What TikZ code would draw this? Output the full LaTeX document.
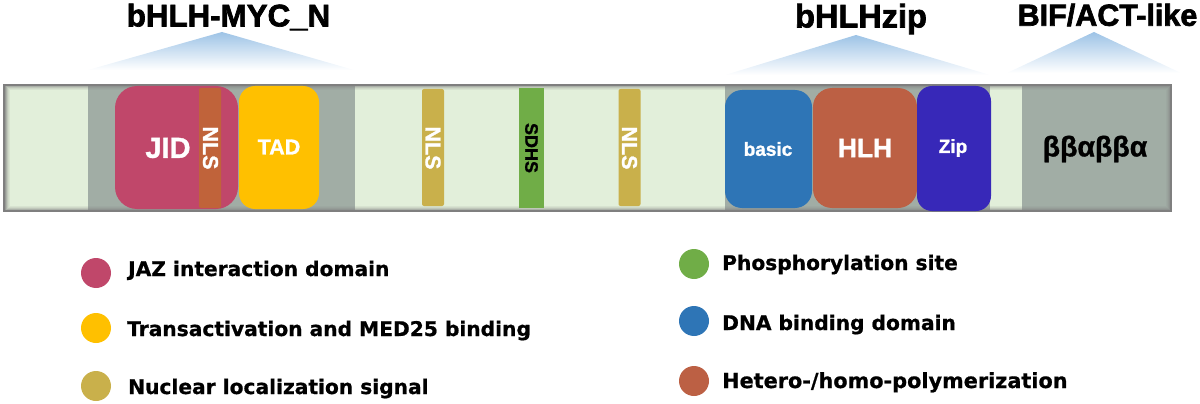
\documentclass[tikz,border=0pt]{standalone}
\usepackage{fontspec}
\setmainfont{Liberation Sans}
\newfontfamily\headfont[RawFeature={embolden=2.2}]{Liberation Sans Bold}
\newfontfamily\labfont[RawFeature={embolden=1.2}]{Liberation Sans Bold}
\newfontfamily\legbold[RawFeature={embolden=0.8}]{DejaVu Sans Bold}
\definecolor{barcol}{HTML}{E2EFDA}
\definecolor{graycol}{HTML}{A1ADA5}
\definecolor{edgecol}{HTML}{7F7F7F}
\definecolor{jidcol}{HTML}{C0476A}
\definecolor{tadcol}{HTML}{FFC000}
\definecolor{nlscol}{HTML}{C9B04B}
\definecolor{nlsjid}{HTML}{C0633A}
\definecolor{sdhscol}{HTML}{70AD47}
\definecolor{basiccol}{HTML}{2E75B6}
\definecolor{hlhcol}{HTML}{BC6044}
\definecolor{zipcol}{HTML}{3728B8}
\definecolor{tricol}{HTML}{9DC3E6}
\tikzset{
  domainbox/.style={inner sep=0pt,outer sep=0pt,rectangle},
  whitetext/.style={text=white,inner sep=0pt},
  headlabel/.style={text=black,font=\headfont\fontsize{31.3}{32}\selectfont,inner sep=0pt},
  legdot/.style={circle,inner sep=0pt,minimum size=30pt},
  legtext/.style={anchor=base west,inner sep=0pt,text=black,font=\legbold\fontsize{20.2}{21}\selectfont}
}
\begin{document}
\begin{tikzpicture}[x=1pt,y=-1pt]
\useasboundingbox (0,0) rectangle (1200,404);
% triangles
\begin{scope}
\clip (88,70) -- (222,32) -- (354,70) -- cycle;
\shade[top color=tricol,bottom color=white] (88,32) rectangle (354,70);
\end{scope}
\begin{scope}
\clip (725,75) -- (856,35) -- (990,75) -- cycle;
\shade[top color=tricol,bottom color=white] (725,35) rectangle (990,75);
\end{scope}
\begin{scope}
\clip (1007,73) -- (1094,32) -- (1181,73) -- cycle;
\shade[top color=tricol,bottom color=white] (1007,32) rectangle (1181,73);
\end{scope}
\node[headlabel] (h1) at (228.5,17) {bHLH-MYC\_N};
\node[headlabel,font=\headfont\fontsize{32.5}{33}\selectfont] (h2) at (861,19) {bHLHzip};
\node[headlabel,font=\headfont\fontsize{30.5}{31}\selectfont] (h3) at (1107.5,15) {BIF/ACT-like};
% bar
\fill[barcol] (4,85) rectangle (1171,211);
\fill[graycol] (88,85) rectangle (355,211);
\fill[graycol] (725,85) rectangle (990,211);
\fill[graycol] (1022,85) rectangle (1171,211);
\foreach \d/\o in {1/0.75,2/0.55,3/0.35,4/0.2,5/0.1}{
  \draw[edgecol,opacity=\o,line width=1pt] (4+\d,85+\d) rectangle (1171-\d,211-\d);
}
\draw[edgecol,line width=2pt] (4,85) rectangle (1171,211);
% domains
\node[domainbox,fill=jidcol,rounded corners=22pt,minimum width=123pt,minimum height=123pt] (jid) at (176.5,147.5) {};
\node[domainbox,fill=tadcol,rounded corners=16pt,minimum width=80pt,minimum height=123pt] (tad) at (279,147.5) {};
\node[domainbox,fill=nlsjid,rounded corners=2pt,minimum width=22pt,minimum height=120pt] (nlsa) at (210,148) {};
\node[domainbox,fill=nlscol,rounded corners=2pt,minimum width=22pt,minimum height=117pt] (nlsb) at (433,147.5) {};
\node[domainbox,fill=sdhscol,minimum width=25pt,minimum height=120pt] (sdhs) at (531.5,148) {};
\node[domainbox,fill=nlscol,rounded corners=2pt,minimum width=22pt,minimum height=117pt] (nlsc) at (629.5,147.5) {};
\node[domainbox,fill=basiccol,rounded corners=17pt,minimum width=87pt,minimum height=118pt] (basic) at (768.5,149) {};
\node[domainbox,fill=hlhcol,rounded corners=19pt,minimum width=104pt,minimum height=120pt] (hlh) at (865,148) {};
\node[domainbox,fill=zipcol,rounded corners=15pt,minimum width=74pt,minimum height=125pt] (zip) at (954,148.5) {};
% domain labels
\node[whitetext,font=\labfont\fontsize{29}{29}\selectfont] (tjid) at (168,148) {JID};
\node[whitetext,font=\labfont\fontsize{21.5}{22}\selectfont] (ttad) at (279,147) {TAD};
\node[whitetext,rotate=-90,font=\labfont\fontsize{21.5}{22}\selectfont] (tnlsa) at (210.5,148) {NLS};
\node[whitetext,rotate=-90,font=\labfont\fontsize{21.5}{22}\selectfont] (tnlsb) at (433,148) {NLS};
\node[whitetext,rotate=-90,font=\labfont\fontsize{21.5}{22}\selectfont] (tnlsc) at (629.5,148) {NLS};
\node[text=black,font=\labfont\fontsize{18}{18}\selectfont,inner sep=0pt,rotate=-90] (tsdhs) at (531.5,148) {SDHS};
\node[whitetext,font=\labfont\fontsize{19}{19}\selectfont] (tbasic) at (768,149) {basic};
\node[whitetext,font=\labfont\fontsize{26.5}{27}\selectfont] (thlh) at (865,148) {HLH};
\node[whitetext,font=\labfont\fontsize{19}{19}\selectfont] (tzip) at (953,148) {Zip};
\node[text=black,font=\labfont\fontsize{28.5}{29}\selectfont,inner sep=0pt] (tgreek) at (1095,149) {ββαββα};
% legend
\node[legdot,fill=jidcol] (d1) at (96,273) {};
\node[legdot,fill=tadcol] (d2) at (96,328) {};
\node[legdot,fill=nlscol] (d3) at (96,386) {};
\node[legdot,fill=sdhscol] (d4) at (694,264) {};
\node[legdot,fill=basiccol] (d5) at (694,321) {};
\node[legdot,fill=hlhcol] (d6) at (694,381) {};
\node[legtext] (l1) at (128,276) {JAZ interaction domain};
\node[legtext] (l2) at (127,336) {Transactivation and MED25 binding};
\node[legtext] (l3) at (128,394) {Nuclear localization signal};
\node[legtext] (l4) at (722,270) {Phosphorylation site};
\node[legtext] (l5) at (722,330) {DNA binding domain};
\node[legtext,font=\legbold\fontsize{20.8}{21}\selectfont] (l6) at (722,388) {Hetero-/homo-polymerization};
\end{tikzpicture}
\end{document}
